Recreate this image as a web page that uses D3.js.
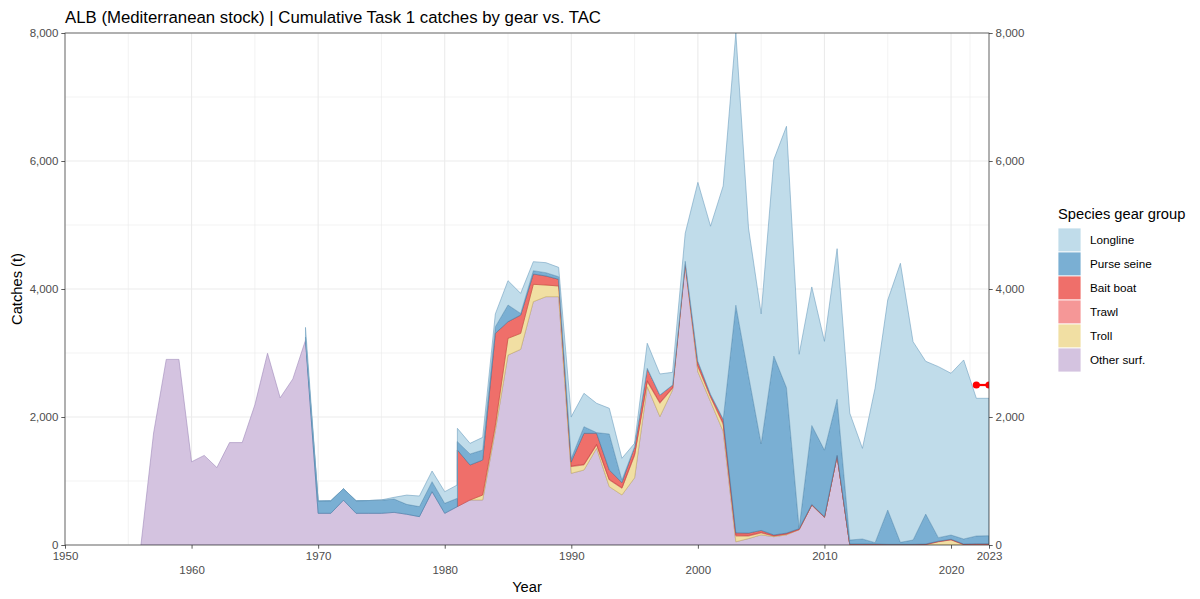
<!DOCTYPE html>
<html>
<head>
<meta charset="utf-8">
<script src="https://cdn.jsdelivr.net/npm/d3@7"></script>
<style>
  body { margin: 0; background: #fff; }
  svg { font-family: "Liberation Sans", Arial, sans-serif; }
</style>
</head>
<body>
<div id="Chart"></div>
<script>

// DATA SEGMENT (t), one value per year 1956..2023, null = gear not reported yet

const YEARS = d3.range(1956, 2024);

const otherSurf = [0, 1750, 2900, 2900, 1300, 1400, 1210, 1600, 1600, 2190, 2995, 2300, 2595, 3200,
    495, 495, 700, 495, 495, 495, 510, 480, 443, 833,
    495, 600, 703, 703, 1790, 2968, 3057, 3802, 3880, 3880,
    1120, 1172, 1511, 912, 782, 1050, 2474, 2006, 2422, 4370,
    2706, 2240, 1775, 50, 100, 158, 130, 158, 240, 623,
    432, 1391, 5, 0, 0, 0, 0, 0, 0, 0,
    0, 0, 0, 0];

const troll = [null, null, null, null, null, null, null, null, null, null, null, null, null, null,
    null, null, null, null, null, null, null, null, null, null,
    null, null, 0, 78, 80, 261, 250, 271, 182, 167,
    105, 79, 52, 104, 104, 350, 79, 208, 26, 20,
    80, 70, 110, 90, 40, 30, 10, 10, 0, 0,
    0, 0, 0, 0, 0, 0, 0, 0, 5, 50,
    80, 5, 0, 0];

const trawl = [null, null, null, null, null, null, null, null, null, null, null, null, null, null,
    null, null, null, null, null, null, null, null, null, null,
    null, null, null, null, null, null, null, null, null, null,
    10, 10, 10, 10, 10, 20, 15, 15, 10, 10,
    20, 15, 20, 15, 10, 10, 5, 5, 5, 5,
    5, 5, 5, 10, 10, 5, 5, 5, 5, 5,
    5, 5, 10, 10];

const baitBoat = [null, null, null, null, null, null, null, null, null, null, null, null, null, null,
    null, null, null, null, null, null, null, null, null, null,
    null, 884, 547, 547, 1437, 260, 286, 161, 141, 104,
    68, 484, 172, 146, 79, 117, 193, 115, 42, 33,
    64, 30, 62, 35, 36, 30, 12, 13, 10, 5,
    5, 5, 5, 5, 5, 5, 5, 5, 5, 5,
    5, 5, 10, 10];

const purseSeine = [null, null, null, null, null, null, null, null, null, null, null, null, null, 50,
    192, 195, 180, 195, 200, 205, 208, 155, 157, 157,
    156, 131, 172, 156, 104, 261, 26, 52, 52, 41,
    52, 104, 11, 563, 41, 0, 0, 0, 0, 0,
    0, 0, 0, 3557, 2465, 1355, 2796, 2273, 12, 1234,
    1041, 877, 63, 79, 22, 537, 32, 68, 469, 55,
    66, 79, 121, 126];

const longline = [null, null, null, null, null, null, null, null, null, null, null, null, null, 150,
    0, 0, 0, 0, 0, 5, 27, 145, 165, 166,
    182, 208, 166, 198, 200, 380, 313, 141, 156, 146,
    651, 521, 458, 401, 339, 52, 391, 328, 198, 438,
    2796, 2626, 3644, 4253, 2302, 2028, 3069, 4083, 2713, 2165,
    1699, 2352, 1982, 1416, 2413, 3281, 4359, 3099, 2386, 2672,
    2527, 2797, 2151, 2146];

const tacYears = [2022, 2023];
const tacValues = [2500, 2500];

// gears bottom -> top of the stack
const GEARS = ["Other surf.", "Troll", "Trawl", "Bait boat", "Purse seine", "Longline"];
const SERIES = {
    "Other surf.": otherSurf,
    "Troll": troll,
    "Trawl": trawl,
    "Bait boat": baitBoat,
    "Purse seine": purseSeine,
    "Longline": longline
};
const FILL = {
    "Longline": "#c0dcea",
    "Purse seine": "#7aafd3",
    "Bait boat": "#ef6f6a",
    "Trawl": "#f59797",
    "Troll": "#f1dfa3",
    "Other surf.": "#d4c3e0"
};
const LINE = {
    "Longline": "#6f9fbf",
    "Purse seine": "#3f7aa5",
    "Bait boat": "#c8403c",
    "Trawl": "#d97070",
    "Troll": "#c9b060",
    "Other surf.": "#a08abb"
};

const xBreaks = [1950, 1960, 1970, 1980, 1990, 2000, 2010, 2020, 2023];
const xMinor = [1955, 1965, 1975, 1985, 1995, 2005, 2015, 2021.5];
const yBreaks = [0, 2000, 4000, 6000, 8000];
const yMinor = [1000, 3000, 5000, 7000];

const CHART_WIDTH = 1200;
const CHART_HEIGHT = 599;
const panel = {left: 65, right: 989, top: 33, bottom: 545};
const format = d3.format(",");

// first year each gear is reported
const START = {};
GEARS.forEach(g => START[g] = YEARS[SERIES[g].findIndex(v => v != null)]);

// value of one gear at a (possibly fractional) year, zero before it starts
function valueAt(vals, x) {
    const y0 = Math.floor(x + 1e-9);
    const t = x - y0;
    const i = y0 - YEARS[0];
    const a = vals[i], b = vals[i + 1];
    if (t < 1e-6) return a == null ? 0 : a;
    if (a == null || b == null) return 0;
    return a + (b - a) * t;
}

// like ggplot's stat_align: add a zero point just before a gear starts
function alignRows() {
    let xs = YEARS.slice();
    GEARS.forEach(g => {
        if (START[g] > YEARS[0]) xs.push(START[g] - 0.001);
    });
    xs.sort((a, b) => a - b);
    return xs.map(x => {
        const row = {year: x};
        GEARS.forEach(g => row[g] = valueAt(SERIES[g], x));
        return row;
    });
}

function chart() {
    const svg = d3.select("#Chart")
        .append("svg")
        .attr("width", CHART_WIDTH)
        .attr("height", CHART_HEIGHT)
        .attr("viewBox", [0, 0, CHART_WIDTH, CHART_HEIGHT]);

    const x = d3.scaleLinear().domain([1950, 2023]).range([panel.left, panel.right]);
    const y = d3.scaleLinear().domain([0, 8000]).range([panel.bottom, panel.top]);

    svg.append("defs").append("clipPath").attr("id", "clip")
        .append("rect")
        .attr("x", panel.left).attr("y", panel.top)
        .attr("width", panel.right - panel.left)
        .attr("height", panel.bottom - panel.top);

    // grid
    const grid = svg.append("g");
    grid.selectAll(".ymin").data(yMinor).join("line")
        .attr("x1", panel.left).attr("x2", panel.right)
        .attr("y1", d => y(d)).attr("y2", d => y(d))
        .attr("stroke", "#ebebeb").attr("stroke-width", 0.6);
    grid.selectAll(".xmin").data(xMinor).join("line")
        .attr("y1", panel.top).attr("y2", panel.bottom)
        .attr("x1", d => x(d)).attr("x2", d => x(d))
        .attr("stroke", "#ebebeb").attr("stroke-width", 0.6);
    grid.selectAll(".ymaj").data(yBreaks).join("line")
        .attr("x1", panel.left).attr("x2", panel.right)
        .attr("y1", d => y(d)).attr("y2", d => y(d))
        .attr("stroke", "#ebebeb").attr("stroke-width", 1.1);
    grid.selectAll(".xmaj").data(xBreaks).join("line")
        .attr("y1", panel.top).attr("y2", panel.bottom)
        .attr("x1", d => x(d)).attr("x2", d => x(d))
        .attr("stroke", "#ebebeb").attr("stroke-width", 1.1);

    // stacked areas
    const rows = alignRows();
    const stacked = d3.stack().keys(GEARS)(rows);

    const plot = svg.append("g").attr("clip-path", "url(#clip)");
    plot.selectAll("path.gear")
        .data(stacked)
        .join("path")
        .attr("class", "gear")
        .attr("d", s => d3.area()
            .defined(d => d.data.year >= START[s.key] - 0.0015)
            .x(d => x(d.data.year))
            .y0(d => y(d[0]))
            .y1(d => y(d[1]))(s))
        .attr("fill", d => FILL[d.key])
        .attr("stroke", d => LINE[d.key])
        .attr("stroke-width", 0.6)
        .attr("stroke-linejoin", "round");

    // TAC
    const tac = tacYears.map((yr, i) => ({year: yr, value: tacValues[i]}));
    plot.append("path")
        .datum(tac)
        .attr("d", d3.line().x(d => x(d.year)).y(d => y(d.value)))
        .attr("fill", "none")
        .attr("stroke", "#ff0000")
        .attr("stroke-width", 2.2);
    plot.selectAll("circle.tac")
        .data(tac)
        .join("circle")
        .attr("class", "tac")
        .attr("cx", d => x(d.year))
        .attr("cy", d => y(d.value))
        .attr("r", 3.6)
        .attr("fill", "#ff0000");

    // panel border
    svg.append("rect")
        .attr("x", panel.left).attr("y", panel.top)
        .attr("width", panel.right - panel.left)
        .attr("height", panel.bottom - panel.top)
        .attr("fill", "none")
        .attr("stroke", "#333333")
        .attr("stroke-width", 0.7);

    // axes
    const tickStyle = g => {
        g.select(".domain").remove();
        g.selectAll(".tick line").attr("stroke", "#333333").attr("stroke-width", 0.8);
        g.selectAll(".tick text").attr("fill", "#4d4d4d").style("font-size", "11.5px");
    };

    svg.append("g")
        .attr("transform", `translate(${panel.left},0)`)
        .call(d3.axisLeft(y).tickValues(yBreaks).tickFormat(format).tickSize(3.7).tickPadding(2.9))
        .call(tickStyle);

    svg.append("g")
        .attr("transform", `translate(${panel.right},0)`)
        .call(d3.axisRight(y).tickValues(yBreaks).tickFormat(format).tickSize(3.7).tickPadding(2.9))
        .call(tickStyle);

    const xAxis = svg.append("g")
        .attr("transform", `translate(0,${panel.bottom})`)
        .call(d3.axisBottom(x).tickValues(xBreaks).tickFormat(d3.format("d")).tickSize(3.7).tickPadding(2.9))
        .call(tickStyle);
    // two rows of labels, like guide_axis(n.dodge = 2)
    xAxis.selectAll(".tick text")
        .attr("dy", (d, i) => i % 2 === 0 ? "0.71em" : "1.91em");

    // titles
    svg.append("text")
        .attr("x", panel.left)
        .attr("y", 23)
        .style("font-size", "16.8px")
        .attr("fill", "#000")
        .text("ALB (Mediterranean stock) | Cumulative Task 1 catches by gear vs. TAC");

    svg.append("text")
        .attr("x", (panel.left + panel.right) / 2)
        .attr("y", 592)
        .attr("text-anchor", "middle")
        .style("font-size", "14.7px")
        .text("Year");

    svg.append("text")
        .attr("transform", `translate(22,${(panel.top + panel.bottom) / 2}) rotate(-90)`)
        .attr("text-anchor", "middle")
        .style("font-size", "14.7px")
        .text("Catches (t)");

    // legend
    const legendGears = GEARS.slice().reverse();
    const legend = svg.append("g").attr("transform", "translate(1058,219)");
    legend.append("text")
        .attr("x", 0).attr("y", 0)
        .style("font-size", "14.7px")
        .text("Species gear group");
    const item = legend.selectAll("g.item")
        .data(legendGears)
        .join("g")
        .attr("class", "item")
        .attr("transform", (d, i) => `translate(0,${9 + i * 24})`);
    item.append("rect")
        .attr("width", 23).attr("height", 24)
        .attr("fill", d => FILL[d])
        .attr("stroke", "#fff")
        .attr("stroke-width", 0.8);
    item.append("text")
        .attr("x", 32).attr("y", 12)
        .attr("dy", "0.35em")
        .style("font-size", "11.7px")
        .attr("fill", "#000")
        .text(d => d);

    return svg.node();
}

chart();
</script>
</body>
</html>
